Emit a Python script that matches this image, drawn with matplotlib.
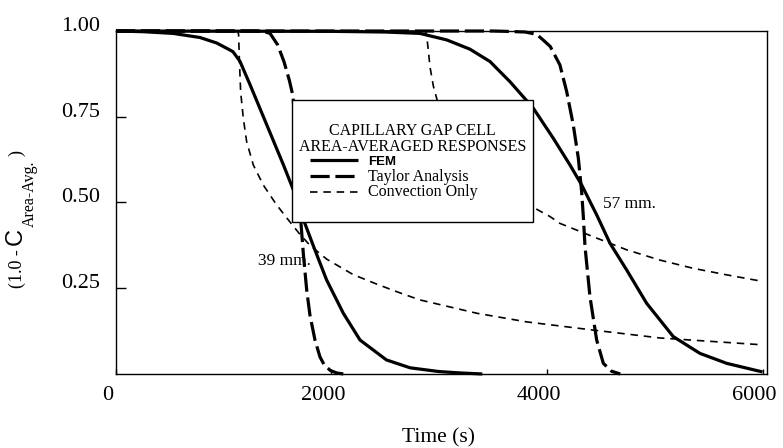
import matplotlib
matplotlib.use("Agg")
import matplotlib.pyplot as plt
from matplotlib.patches import Rectangle
from matplotlib.lines import Line2D
from matplotlib.transforms import ScaledTranslation

plt.rcParams['font.family'] = ['Liberation Serif', 'DejaVu Serif']

# ---------------- data ----------------
# 39 mm cell
t39_fem = [0, 250, 530, 780, 935, 1085, 1150, 1245, 1400, 1555, 1680, 1740, 1830,
           1955, 2110, 2265, 2510, 2730, 3000, 3200, 3400]
y39_fem = [1.0, 0.998, 0.993, 0.981, 0.965, 0.94, 0.912, 0.843, 0.726, 0.609, 0.51,
           0.45, 0.375, 0.274, 0.177, 0.099, 0.041, 0.018, 0.007, 0.003, 0.0]

t39_taylor = [0, 1300, 1380, 1430, 1500, 1560, 1610, 1643, 1661, 1686, 1701, 1712,
              1739, 1770, 1800, 1847, 1893, 1930, 1990, 2050, 2110]
y39_taylor = [1.0, 1.0, 0.998, 0.993, 0.96, 0.91, 0.855, 0.81, 0.726, 0.615, 0.52,
              0.46, 0.35, 0.245, 0.172, 0.099, 0.05, 0.028, 0.01, 0.003, 0.0]

t39_conv = [0, 1130, 1138, 1145, 1157, 1182, 1213, 1275, 1367, 1491, 1600, 1700,
            1800, 1955, 2200, 2420, 2640, 2820, 3350, 3810, 4430, 5050, 6000]
y39_conv = [1.0, 1.0, 0.99, 0.92, 0.823, 0.745, 0.677, 0.609, 0.551, 0.493, 0.449,
            0.41, 0.375, 0.335, 0.29, 0.262, 0.236, 0.216, 0.177, 0.152, 0.128,
            0.105, 0.085]

# 57 mm cell
t57_fem = [0, 2000, 2500, 2820, 3070, 3285, 3471, 3657, 3873, 4059, 4214, 4322,
           4461, 4585, 4740, 4925, 5172, 5420, 5668, 6000]
y57_fem = [1.0, 0.999, 0.997, 0.993, 0.974, 0.947, 0.911, 0.852, 0.775, 0.687,
           0.609, 0.551, 0.464, 0.381, 0.303, 0.206, 0.109, 0.060, 0.031, 0.006]

t57_taylor = [0, 3500, 3620, 3800, 3905, 3960, 4030, 4120, 4183, 4244, 4291, 4322,
              4337, 4353, 4399, 4461, 4523, 4600, 4680]
y57_taylor = [1.0, 1.0, 0.999, 0.997, 0.99, 0.975, 0.955, 0.901, 0.823, 0.726,
              0.629, 0.53, 0.46, 0.371, 0.225, 0.099, 0.031, 0.008, 0.0]

t57_conv = [0, 2870, 2883, 2900, 2914, 2945, 2976, 3050, 3250, 3500, 3750, 3889,
            4028, 4121, 4430, 4740, 5049, 5358, 5668, 6000]
y57_conv = [1.0, 1.0, 0.988, 0.94, 0.896, 0.84, 0.804, 0.71, 0.62, 0.56, 0.51,
            0.483, 0.459, 0.439, 0.40, 0.362, 0.332, 0.308, 0.289, 0.27]

x_ticks = [0, 2000, 4000, 6000]
x_ticklabels = ['0', '2000', '4000', '6000']
y_ticks = [0.25, 0.50, 0.75, 1.00]
y_ticklabels = ['0.25', '0.50', '0.75', '1.00']

legend_title = ["CAPILLARY GAP CELL", "AREA-AVERAGED RESPONSES"]
series_names = ['FEM', 'Taylor Analysis', 'Convection Only']
annotations = [('39 mm.', 1318, 0.318), ('57 mm.', 4520, 0.484)]

# ---------------- figure ----------------
W, H = 783, 448
fig = plt.figure(figsize=(W / 100, H / 100), dpi=100)
ax = fig.add_axes([0.1481, 0.1652, 0.9796 - 0.1481, 0.9308 - 0.1652])

fem_style = dict(color='black', lw=2.3, ls='-', solid_capstyle='butt')
tay_style = dict(color='black', lw=2.3, ls=(0, (6.0, 1.8)), dash_capstyle='butt')
con_style = dict(color='black', lw=1.2, ls=(0, (4.5, 3.5)), dash_capstyle='butt')

ax.plot(t39_fem, y39_fem, clip_on=False, **fem_style)
ax.plot(t57_fem, y57_fem, clip_on=False, **fem_style)
ax.plot(t39_taylor, y39_taylor, clip_on=False, **tay_style)
ax.plot(t57_taylor, y57_taylor, clip_on=False, **tay_style)
ax.plot(t39_conv, y39_conv, clip_on=False, **con_style)
ax.plot(t57_conv, y57_conv, clip_on=False, **con_style)

ax.set_xlim(0, 6042)
ax.set_ylim(0, 1.0)

for s in ax.spines.values():
    s.set_linewidth(1.0)

ax.set_xticks(x_ticks)
ax.set_xticklabels(x_ticklabels, fontsize=16)
ax.set_yticks(y_ticks)
ax.set_yticklabels(y_ticklabels, fontsize=16)
ax.tick_params(axis='y', direction='in', length=7.5, width=1.0, pad=11.5)
ax.tick_params(axis='x', direction='in', length=3.5, width=1.0, pad=8.5)
for lbl in ax.get_yticklabels():
    lbl.set_verticalalignment('baseline')
off = ScaledTranslation(-8 / 100, 0, fig.dpi_scale_trans)
for tk in ax.xaxis.get_major_ticks():
    tk.label1.set_transform(tk.label1.get_transform() + off)


def fx(px):
    return px / W


def fy(py):
    return (H - py) / H


# x label
fig.text(fx(438.5), fy(442), 'Time (s)', fontsize=15.5, ha='center', va='baseline')

# y label (pieces: "(1.0 -", big sans "C", subscript, ")")
fig.text(fx(17.5), fy(288), '(1.0 -', fontsize=13, rotation=90, ha='center', va='bottom')
fig.text(fx(16), fy(245), 'C', fontsize=17, rotation=90, ha='center', va='bottom',
         family='Liberation Sans')
fig.text(fx(29.5), fy(227), 'Area-Avg.', fontsize=11.5, rotation=90, ha='center', va='bottom')
fig.text(fx(16.5), fy(155.5), ')', fontsize=13, rotation=90, ha='center', va='bottom')

for txt, xv, yv in annotations:
    ax.text(xv, yv, txt, fontsize=12.5, ha='left', va='baseline')

# legend box (white, drawn above the curves)
def axx(px):
    return (px - 116) / 651


def axy(py):
    return (374 - py) / 343


lx0, lx1, ly_top, ly_bot = axx(292), axx(533), axy(100), axy(222)
ax.add_patch(Rectangle((lx0, ly_bot), lx1 - lx0, ly_top - ly_bot, transform=ax.transAxes,
                       facecolor='white', edgecolor='black', lw=1.0, zorder=5,
                       clip_on=False))
tcx = axx(412.5)
ax.text(tcx, axy(135), legend_title[0], transform=ax.transAxes, fontsize=11.5,
        ha='center', va='baseline', zorder=6)
ax.text(tcx, axy(151), legend_title[1], transform=ax.transAxes, fontsize=11.5,
        ha='center', va='baseline', zorder=6)

hx0, hx1, tx = axx(310), axx(358), axx(368)
handle_y = [axy(160), axy(176), axy(192.5)]
text_y = [axy(165), axy(181), axy(196.5)]
styles = [fem_style, tay_style, con_style]
for name, st, hy, ty in zip(series_names, styles, handle_y, text_y):
    ax.add_line(Line2D([hx0, hx1], [hy, hy], transform=ax.transAxes, zorder=6,
                       clip_on=False, **st))
    if name == 'FEM':
        ax.text(tx, ty, name, transform=ax.transAxes, fontsize=9.5, ha='left',
                va='baseline', family='Liberation Sans', fontweight='bold', zorder=6)
    else:
        ax.text(tx, ty, name, transform=ax.transAxes, fontsize=11.5, ha='left',
                va='baseline', zorder=6)

fig.savefig('out.png', dpi=100)
